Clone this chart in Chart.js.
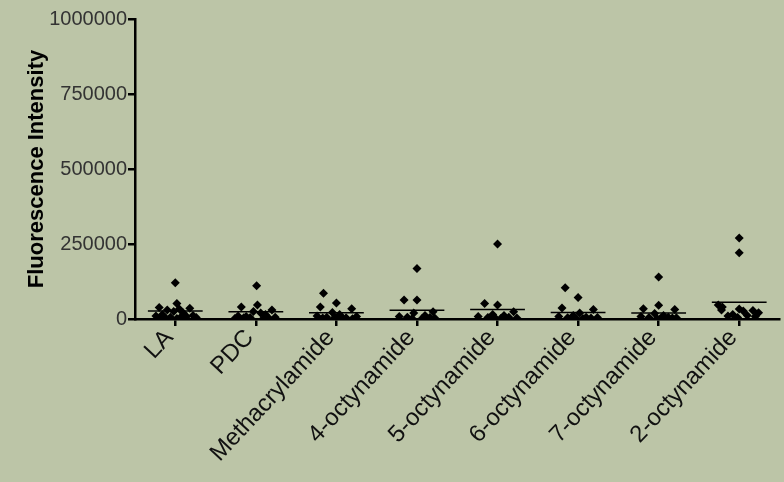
<!DOCTYPE html>
<html>
<head>
<meta charset="utf-8">
<script src="https://cdn.jsdelivr.net/npm/chart.js@4.4.1/dist/chart.umd.min.js"></script>
<style>
  html, body { margin: 0; padding: 0; background: #BCC5A7; }
  #wrap { width: 784px; height: 482px; position: relative; }
</style>
</head>
<body>
<div id="wrap"><canvas id="c" width="784" height="482"></canvas></div>
<script>
// ---- data ----
const categories = ["LA", "PDC", "Methacrylamide", "4-octynamide", "5-octynamide", "6-octynamide", "7-octynamide", "2-octynamide"];

const valuesLA    = [121000, 52000, 38000, 36000, 33000, 30000, 25000, 20000, 15000, 12000, 10000, 8000, 6000, 5000, 4000, 3000, 2000, 1000];
const jitterLA    = [0, 0.02, -0.2, 0.18, 0.05, -0.1, -0.02, 0.1, -0.16, 0.22, -0.24, 0.14, -0.06, 0.26, 0.06, -0.12, 0.02, -0.2];

const valuesPDC   = [111000, 47000, 40000, 30000, 25000, 20000, 15000, 10000, 8000, 6000, 5000, 3000, 2000, 1000, 4000];
const jitterPDC   = [0.01, 0.02, -0.18, 0.2, -0.03, 0.06, 0.12, -0.22, -0.12, 0.24, -0.07, 0.16, -0.26, 0.09, -0.15];

const valuesMeth  = [86000, 53000, 40000, 34000, 22000, 15000, 10000, 8000, 6000, 4000, 3000, 2000, 1000, 5000];
const jitterMeth  = [-0.16, 0.0, -0.2, 0.19, -0.05, 0.04, -0.24, 0.25, -0.12, 0.12, -0.17, 0.08, 0.2, -0.02];

const values4oct  = [168000, 63000, 63000, 24000, 20000, 12000, 8000, 6000, 5000, 3000, 2000, 1000];
const jitter4oct  = [0, -0.16, 0, 0.2, -0.04, 0.1, -0.22, -0.12, 0.16, 0.22, -0.06, 0.06];

const values5oct  = [250000, 52000, 47000, 24000, 15000, 12000, 8000, 6000, 5000, 3000, 2000, 1000];
const jitter5oct  = [0, -0.16, 0, 0.2, -0.06, 0.08, -0.24, 0.14, -0.12, 0.24, 0.04, -0.02];

const values6oct  = [104000, 72000, 37000, 32000, 20000, 12000, 8000, 6000, 5000, 4000, 3000, 2000, 1000];
const jitter6oct  = [-0.16, 0, -0.2, 0.19, 0.02, -0.06, -0.24, 0.1, 0.24, -0.13, 0.16, 0.06, -0.02];

const values7oct  = [140000, 46000, 34000, 32000, 18000, 12000, 8000, 6000, 5000, 4000, 3000, 2000, 1000];
const jitter7oct  = [0, 0, -0.19, 0.2, -0.05, 0.06, -0.22, 0.12, -0.12, 0.22, 0.17, -0.02, 0.02];

const values2oct  = [270000, 221000, 47000, 40000, 30000, 33000, 27000, 28000, 21000, 15000, 12000, 10000, 8000, 5000];
const jitter2oct  = [0, 0, -0.26, -0.21, -0.22, 0.0, 0.05, 0.17, 0.24, -0.08, 0.1, -0.14, 0.2, -0.02];

const meanValues  = [26700, 24000, 21000, 29000, 32000, 22000, 20000, 55600];

const yTicks = [0, 250000, 500000, 750000, 1000000];
const yTitle = "Fluorescence Intensity";

// ---- build datasets ----
const groupValues = [valuesLA, valuesPDC, valuesMeth, values4oct, values5oct, values6oct, values7oct, values2oct];
const groupJitter = [jitterLA, jitterPDC, jitterMeth, jitter4oct, jitter5oct, jitter6oct, jitter7oct, jitter2oct];

const pointData = [];
groupValues.forEach((vals, i) => {
  vals.forEach((v, k) => pointData.push({ x: i + groupJitter[i][k], y: v }));
});

const datasets = [];
meanValues.forEach((m, i) => {
  datasets.push({
    type: 'line',
    data: [{ x: i - 0.34, y: m }, { x: i + 0.34, y: m }],
    borderColor: '#000',
    borderWidth: 1.5,
    pointRadius: 0,
    fill: false,
    order: 2
  });
});
datasets.push({
  type: 'scatter',
  data: pointData,
  pointStyle: 'rectRot',
  pointRadius: 4.5,
  pointBackgroundColor: '#000',
  pointBorderColor: '#000',
  pointBorderWidth: 0,
  order: 1
});

const bgPlugin = {
  id: 'bg',
  beforeDraw(chart) {
    const ctx = chart.ctx;
    ctx.save();
    ctx.fillStyle = '#BCC5A7';
    ctx.fillRect(0, 0, chart.width, chart.height);
    ctx.restore();
  }
};

new Chart(document.getElementById('c'), {
  type: 'scatter',
  data: { datasets },
  plugins: [bgPlugin],
  options: {
    responsive: false,
    animation: false,
    layout: { padding: { top: 19, right: 4, left: 0, bottom: 0 } },
    plugins: { legend: { display: false }, tooltip: { enabled: false } },
    scales: {
      x: {
        type: 'linear',
        min: -0.5,
        max: 7.5,
        afterBuildTicks(scale) { scale.ticks = categories.map((c, i) => ({ value: i })); },
        afterFit(scale) { scale.height = 163; },
        border: { display: true, color: '#000', width: 2.5 },
        grid: { drawOnChartArea: false, drawTicks: true, tickLength: 7, color: '#000', lineWidth: 2.5 },
        ticks: {
          autoSkip: false,
          minRotation: 47,
          maxRotation: 47,
          padding: -2,
          labelOffset: -6,
          color: '#111',
          font: { family: 'Liberation Sans, Arial, sans-serif', size: 24 },
          callback: (v) => categories[Math.round(v)]
        }
      },
      y: {
        min: 0,
        max: 1000000,
        afterBuildTicks(scale) { scale.ticks = yTicks.map(v => ({ value: v })); },
        afterFit(scale) { scale.width = 135; },
        border: { display: true, color: '#000', width: 2.5 },
        grid: { drawOnChartArea: false, drawTicks: true, tickLength: 7, color: '#000', lineWidth: 2.5 },
        ticks: {
          padding: 1,
          color: '#333',
          font: { family: 'Liberation Sans, Arial, sans-serif', size: 20 },
          callback: (v) => String(v)
        },
        title: {
          display: true,
          text: yTitle,
          color: '#000',
          padding: { top: 24, bottom: 0 },
          font: { family: 'Liberation Sans, Arial, sans-serif', size: 22, weight: 'bold' }
        }
      }
    }
  }
});
</script>
</body>
</html>
